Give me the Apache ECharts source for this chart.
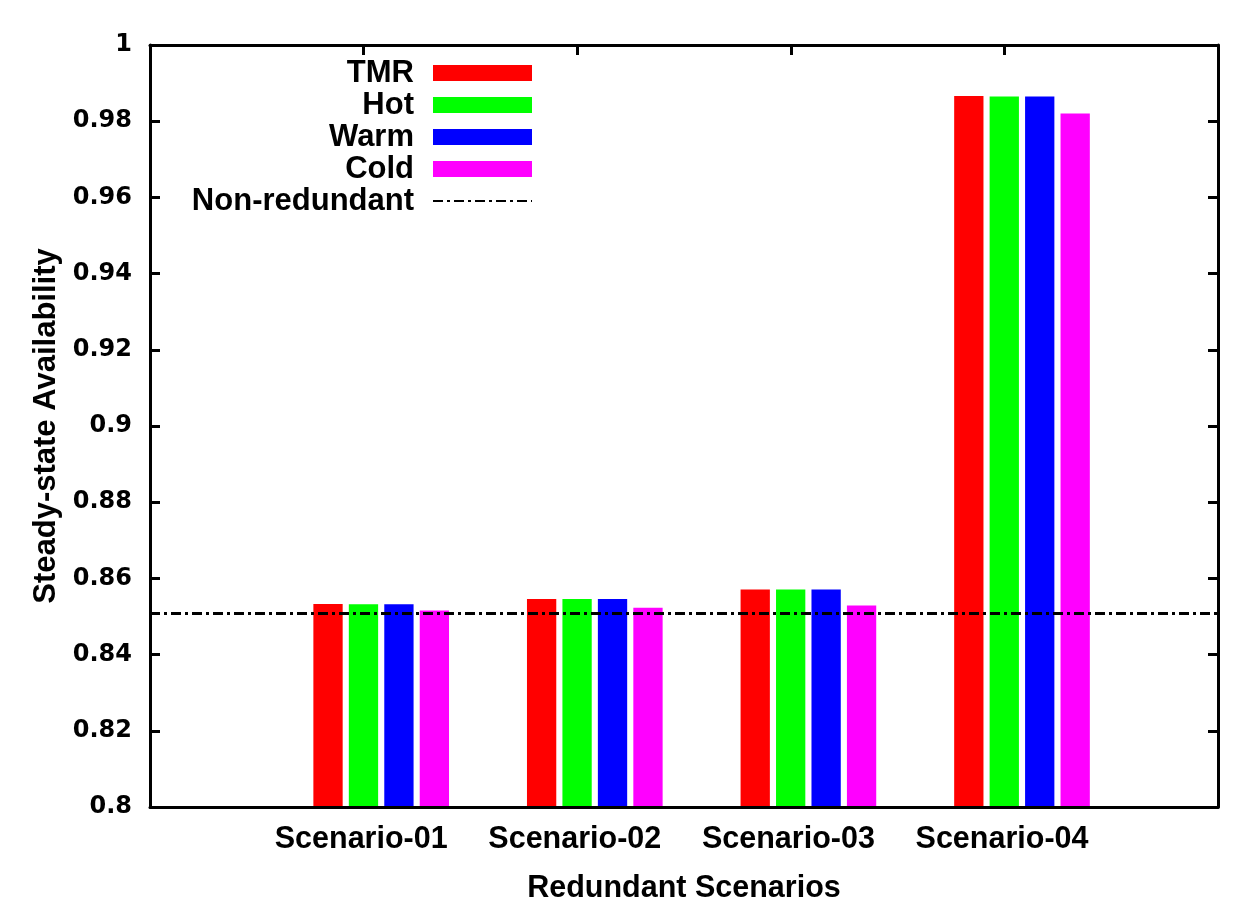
<!DOCTYPE html>
<html><head><meta charset="utf-8">
<script src="https://cdn.jsdelivr.net/npm/echarts@6/dist/echarts.min.js"></script>
<style>html,body{margin:0;padding:0;background:#fff}#c{width:1251px;height:904px}</style>
</head><body><div id="c"></div>
<script>
const categories = ['Scenario-01', 'Scenario-02', 'Scenario-03', 'Scenario-04'];
const seriesNames = ['TMR', 'Hot', 'Warm', 'Cold'];
const tmr  = [0.8533, 0.8546, 0.8571, 0.9866];
const hot  = [0.8532, 0.8546, 0.8571, 0.9865];
const warm = [0.8532, 0.8546, 0.8571, 0.9865];
const cold = [0.8516, 0.8523, 0.8529, 0.9820];
const nonRedundant = 0.8508;
const yMin = 0.8, yMax = 1, yInterval = 0.02;
const xMin = -1, xMax = 4;

const colors = ['#ff0000', '#00ff00', '#0000ff', '#ff00ff'];
const values = [tmr, hot, warm, cold];
const LAB = '"Liberation Sans", Arial, Helvetica, sans-serif';
const DJV = '"DejaVu Sans", sans-serif';

const chart = echarts.init(document.getElementById('c'), null, {renderer: 'canvas'});
const frameLine = {show: true, onZero: false, lineStyle: {color: '#000', width: 3}};
const inTick = {show: true, inside: true, length: 10, lineStyle: {width: 3, color: '#000'}};
const option = {
  backgroundColor: '#fff',
  animation: false,
  grid: [
    {left: 150, right: 33, top: 45, bottom: 97, containLabel: false, outerBoundsMode: 'none'},
    {left: 274.4, right: 122.2, top: 45, bottom: 97, containLabel: false, outerBoundsMode: 'none'}
  ],
  legend: {
    orient: 'vertical',
    align: 'right',
    right: 718,
    top: 57,
    padding: 0,
    itemGap: 0,
    itemWidth: 99,
    itemHeight: 16,
    data: seriesNames.map(n => ({name: n, icon: 'rect'})).concat([
      {name: 'Non-redundant', itemStyle: {opacity: 0}}
    ]),
    textStyle: {fontFamily: LAB, fontWeight: 'bold', fontSize: 31, color: '#000', lineHeight: 32, padding: [0, 14, 0, 0]}
  },
  xAxis: [
    {type: 'value', gridIndex: 0, min: xMin, max: xMax, interval: 1, position: 'bottom', z: 10,
     name: 'Redundant Scenarios', nameLocation: 'middle', nameGap: 66,
     nameTextStyle: {fontFamily: LAB, fontWeight: 'bold', fontSize: 30.5, color: '#000'},
     axisLine: frameLine, axisTick: {show: false}, axisLabel: {show: false}, splitLine: {show: false}},
    {type: 'value', gridIndex: 0, min: xMin, max: xMax, interval: 1, position: 'top', z: 10,
     axisLine: frameLine, axisTick: inTick,
     axisLabel: {show: false}, splitLine: {show: false}},
    {type: 'category', gridIndex: 1, data: categories, position: 'bottom',
     axisLine: {show: false}, axisTick: {show: false},
     axisLabel: {interval: 0, fontFamily: LAB, fontWeight: 'bold', fontSize: 30.5, color: '#000', margin: 18, lineHeight: 30, padding: [0, 40, 0, 0]}}
  ],
  yAxis: [
    {type: 'value', gridIndex: 0, min: yMin, max: yMax, interval: yInterval, position: 'left', z: 10,
     name: 'Steady-state Availability', nameLocation: 'middle', nameGap: 85, nameRotate: 90,
     nameTextStyle: {fontFamily: LAB, fontWeight: 'bold', fontSize: 31, color: '#000'},
     axisLine: frameLine, axisTick: inTick,
     axisLabel: {fontFamily: DJV, fontWeight: 'bold', fontSize: 24, color: '#000', margin: 18},
     splitLine: {show: false}},
    {type: 'value', gridIndex: 0, min: yMin, max: yMax, interval: yInterval, position: 'right', z: 10,
     axisLine: frameLine, axisTick: inTick,
     axisLabel: {show: false}, splitLine: {show: false}},
    {type: 'value', gridIndex: 1, min: yMin, max: yMax, interval: yInterval, show: false}
  ],
  series: seriesNames.map((n, i) => ({
    name: n, type: 'bar', xAxisIndex: 2, yAxisIndex: 2,
    barWidth: 29.3, barGap: '21%',
    itemStyle: {color: colors[i]},
    data: values[i]
  })).concat([{
    name: 'Non-redundant', type: 'line', xAxisIndex: 0, yAxisIndex: 0, z: 5,
    symbol: 'none', silent: true,
    lineStyle: {color: '#000', width: 3, type: [10, 4, 3, 4]},
    itemStyle: {color: '#000'},
    data: [[xMin, nonRedundant], [xMax, nonRedundant]]
  }])
};
chart.setOption(option);
</script></body></html>
